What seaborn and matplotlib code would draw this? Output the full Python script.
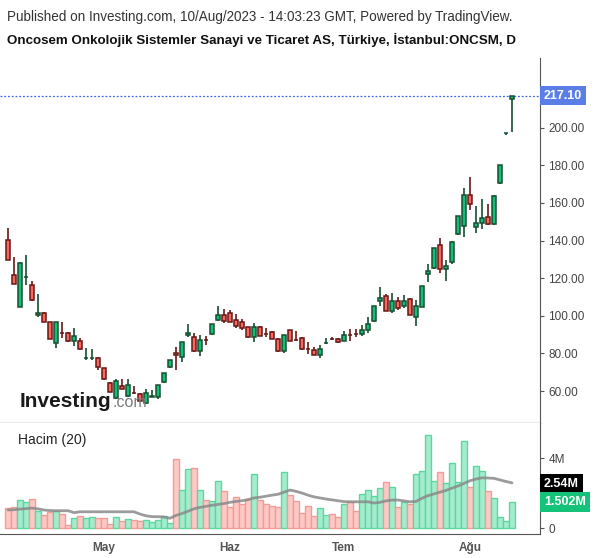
import matplotlib
matplotlib.use("Agg")
import matplotlib.pyplot as plt
import numpy as np
import pandas as pd
import seaborn as sns

# daily candles, ONCSM (price in TRY)
opens = [140.3, 121.7, 104.7, 120.6, 116.4, 100.4, 101.5, 96.7, 85.5, 91.05,
         90.9, 86.6, 86.6, 77.6, 77.6, 77.6, 72.2, 64.4, 56.3, 62.7,
         57.3, 59.15, 58.4, 53.6, 57.0, 56.8, 64.8, 72.8, 80.2, 78.1,
         89.8, 88.7, 81.3, 87.25, 90.3, 97.8, 100.4, 101.5, 97.8, 96.7,
         94.0, 88.7, 94.0, 90.45, 91.4, 87.7, 81.3, 92.4, 87.25, 88.2,
         82.45, 81.8, 79.1, 85.5, 87.85, 87.7, 86.6, 89.95, 90.45, 90.3,
         92.4, 97.2, 107.9, 110.5, 102.6, 107.9, 105.2, 108.9, 99.4, 104.7,
         122.2, 125.4, 137.7, 124.9, 128.6, 143.5, 147.8, 164.3, 147.2, 149.4,
         152.6, 148.8, 170.6, 197.2, 215.5]
highs = [146.7, 131.3, 128.5, 132.3, 118.5, 111.6, 101.8, 96.9, 96.7, 96.7,
         91.5, 93.5, 88.0, 82.9, 82.3, 78.0, 72.5, 64.8, 66.4, 66.4,
         66.4, 62.7, 58.8, 61.1, 60.5, 63.4, 69.8, 76.7, 83.4, 86.3,
         95.6, 91.0, 89.8, 89.3, 95.8, 105.2, 103.6, 103.1, 101.0, 98.3,
         94.3, 96.2, 94.5, 93.5, 92.0, 88.0, 89.8, 92.7, 92.0, 88.5,
         86.1, 83.4, 84.5, 88.2, 88.7, 88.0, 91.9, 93.0, 93.0, 95.1,
         99.4, 105.4, 115.3, 111.5, 112.1, 110.0, 111.0, 109.5, 108.4, 116.1,
         127.6, 136.3, 141.4, 129.7, 139.5, 153.3, 168.0, 173.8, 158.4, 162.1,
         159.5, 164.0, 180.4, 197.4, 217.1]
lows = [129.7, 116.9, 104.5, 116.4, 108.0, 99.4, 96.5, 87.5, 82.9, 88.2,
        86.0, 83.9, 81.8, 76.5, 76.5, 71.2, 66.0, 59.3, 56.0, 61.0,
        56.8, 58.4, 54.5, 53.0, 56.8, 55.7, 64.5, 72.5, 71.2, 75.4,
        88.7, 81.0, 78.6, 84.5, 90.0, 97.2, 96.2, 96.5, 93.5, 92.5,
        88.0, 86.1, 89.0, 88.7, 87.5, 81.0, 80.2, 86.4, 86.6, 82.0,
        79.7, 79.0, 77.6, 85.0, 87.1, 85.8, 86.4, 86.6, 88.7, 89.3,
        90.9, 96.9, 105.2, 102.3, 101.5, 103.0, 104.1, 100.2, 94.6, 104.5,
        118.0, 125.0, 122.8, 118.5, 127.5, 143.0, 141.9, 156.3, 144.0, 146.2,
        148.5, 148.5, 170.3, 196.0, 197.8]
closes = [129.7, 116.9, 128.1, 120.75, 108.4, 101.5, 96.7, 87.7, 96.7, 90.9,
          86.6, 89.3, 82.3, 77.75, 77.75, 72.8, 66.4, 59.5, 65.3, 61.1,
          63.2, 59.0, 54.7, 58.9, 57.15, 63.2, 69.6, 76.5, 79.1, 86.1,
          90.9, 81.3, 87.1, 87.1, 95.6, 100.4, 97.2, 96.7, 94.6, 93.5,
          88.7, 94.0, 89.3, 90.3, 87.7, 81.3, 89.8, 86.6, 87.1, 82.3,
          82.3, 79.1, 82.3, 85.65, 87.7, 86.1, 89.8, 89.8, 90.3, 92.4,
          95.6, 105.2, 109.5, 102.6, 107.9, 104.1, 107.9, 100.4, 105.2, 115.9,
          123.8, 136.1, 124.9, 126.5, 139.3, 153.1, 164.3, 159.5, 149.4, 152.1,
          148.8, 163.7, 180.2, 197.35, 217.1]

# volume in millions and its 20-day average
volume = [1.12, 1.18, 1.60, 1.47, 1.66, 0.97, 0.74, 0.90, 0.95, 0.78,
          0.17, 0.57, 0.67, 0.57, 0.61, 0.57, 0.57, 0.23, 0.63, 0.40,
          0.51, 0.46, 0.40, 0.46, 0.34, 0.46, 0.67, 0.27, 3.94, 2.17,
          3.35, 3.41, 2.17, 1.60, 1.54, 2.69, 2.11, 1.20, 1.75, 1.37,
          1.66, 3.07, 1.60, 1.37, 1.24, 1.18, 3.18, 1.89, 1.54, 0.84,
          1.24, 0.67, 1.12, 0.74, 0.80, 0.61, 1.35, 1.47, 0.95, 1.92,
          2.15, 1.81, 2.27, 2.61, 2.32, 1.18, 1.47, 1.35, 3.07, 3.24,
          5.31, 2.69, 3.18, 2.57, 3.71, 2.61, 4.95, 2.32, 3.52, 3.24,
          2.11, 1.70, 0.61, 0.40, 1.502]
volume_ma = [1.03, 1.05, 1.08, 1.11, 1.14, 1.10, 1.03, 1.00, 0.99, 0.99,
             0.99, 0.88, 0.93, 0.93, 0.93, 0.93, 0.93, 0.93, 0.93, 0.93,
             0.93, 0.93, 0.80, 0.70, 0.65, 0.65, 0.63, 0.56, 0.72, 0.83,
             0.96, 1.10, 1.18, 1.24, 1.30, 1.35, 1.40, 1.47, 1.52, 1.56,
             1.62, 1.72, 1.76, 1.82, 1.88, 1.93, 2.05, 2.17, 2.10, 2.00,
             1.88, 1.78, 1.72, 1.66, 1.61, 1.56, 1.51, 1.50, 1.50, 1.50,
             1.50, 1.43, 1.47, 1.55, 1.60, 1.60, 1.55, 1.50, 1.52, 1.70,
             1.85, 1.95, 2.05, 2.15, 2.28, 2.40, 2.55, 2.70, 2.80, 2.87,
             2.86, 2.84, 2.75, 2.66, 2.58]

month_pos = [16, 37, 56, 77]
month_labels = ["May", "Haz", "Tem", "Ağu"]
price_ticks = [60, 80, 100, 120, 140, 160, 180, 200, 220]
last_price = 217.10
last_ma = 2.54
last_vol = 1.502

df = pd.DataFrame({"open": opens, "high": highs, "low": lows, "close": closes,
                   "volume": volume, "ma": volume_ma})
df["x"] = np.arange(len(df))
df["up"] = df["close"] >= df["open"]

sns.set_style("white")
plt.rcParams["font.family"] = ["Liberation Sans", "DejaVu Sans"]

fig = plt.figure(figsize=(6, 5.58), dpi=100)
ax = fig.add_axes([0.0, 0.2419, 0.9, 0.654])
axv = fig.add_axes([0.0, 0.043, 0.9, 0.1989], sharex=ax)

green, red = "#0fc078", "#f8695d"
green_edge, red_edge = "#174e30", "#6a1616"

# candles
body_col = np.where(df["up"], green, red)
edge_col = np.where(df["up"], green_edge, red_edge)
ax.vlines(df["x"], df["low"], df["high"], colors=edge_col, linewidth=1.2, zorder=2)
ax.bar(df["x"], (df["close"] - df["open"]).abs(), bottom=df[["open", "close"]].min(axis=1),
       width=0.7, color=body_col, edgecolor=edge_col, linewidth=1.1, zorder=3)

ax.axhline(last_price, color="#3f66e0", linestyle=(0, (1.5, 1.5)), linewidth=0.9, zorder=1)
ax.set_xlim(-1.33, 88.67)
ax.set_ylim(43, 237)
ax.yaxis.tick_right()
ax.set_yticks(price_ticks)
ax.set_yticklabels([f"{p:.2f}" for p in price_ticks])
ax.tick_params(axis="y", length=3, color="#555555", labelsize=8.5, labelcolor="#444444", pad=3)
ax.tick_params(axis="x", bottom=False, labelbottom=False)
for s in ["left", "top"]:
    ax.spines[s].set_visible(False)
ax.spines["right"].set_color("#555555")
ax.spines["bottom"].set_color("#999999")
ax.spines["bottom"].set_linewidth(1.0)

# volume
vol_fill = np.where(df["up"], "#a5ecce", "#fdc9c6")
vol_edge = np.where(df["up"], "#5cd89f", "#f39c96")
axv.bar(df["x"], df["volume"], width=0.92, color=vol_fill, edgecolor=vol_edge, linewidth=1.0)
sns.lineplot(data=df, x="x", y="ma", ax=axv, color="#8a8a8a", linewidth=2, alpha=0.85)
axv.set_ylim(-0.34, 6.0)
axv.set_xlabel("")
axv.set_ylabel("")
axv.yaxis.tick_right()
axv.set_yticks([0, 2, 4])
axv.set_yticklabels(["0", "2M", "4M"])
axv.tick_params(axis="y", length=3, color="#555555", labelsize=8.5, labelcolor="#444444", pad=3)
axv.set_xticks(month_pos)
axv.set_xticklabels(month_labels)
axv.tick_params(axis="x", length=3, color="#555555", labelsize=8.5, labelcolor="#555555", pad=3)
for lbl in axv.get_xticklabels():
    lbl.set_fontweight("bold")
for s in ["left", "top"]:
    axv.spines[s].set_visible(False)
axv.spines["right"].set_color("#555555")
axv.spines["bottom"].set_color("#555555")
axv.text(18 / 540, 0.85, "Hacim (20)", transform=axv.transAxes, fontsize=10, color="#222222",
         ha="left", va="center")

# last-value labels on the right scale, drawn on top of the tick labels
fig.canvas.draw()
def value_box(axis, value, text, fc):
    y = axis.transData.transform((0, value))[1]
    fy = fig.transFigure.inverted().transform((0, y))[1]
    fig.text(0.9 + 4 / 600, fy, text, ha="left", va="center", fontsize=9, fontweight="bold",
             color="white", bbox=dict(boxstyle="square,pad=0.3", fc=fc, ec="none"))

value_box(ax, last_price, f"{last_price:.2f}", "#5a7ee6")
value_box(axv, last_ma, f"{last_ma:.2f}M", "black")
value_box(axv, last_vol, f"{last_vol:.3f}M", "#14c279")

# header and watermark
fig.text(7 / 600, 1 - 17 / 558, "Published on Investing.com, 10/Aug/2023 - 14:03:23 GMT, Powered by TradingView.",
         fontsize=9.75, color="#333333", ha="left", va="center")
fig.text(7 / 600, 1 - 40 / 558, "Oncosem Onkolojik Sistemler Sanayi ve Ticaret AS, Türkiye, İstanbul:ONCSM, D",
         fontsize=9.6, fontweight="bold", color="#111111", ha="left", va="center")
fig.text(20 / 600, 1 - 407 / 558, "Investing", fontsize=15, fontweight="bold", color="#1a1a1a",
         ha="left", va="baseline")
fig.text(112 / 600, 1 - 407 / 558, ".com", fontsize=11.5, color="#7a7a7a", ha="left", va="baseline")

fig.savefig("out.png", dpi=100)
